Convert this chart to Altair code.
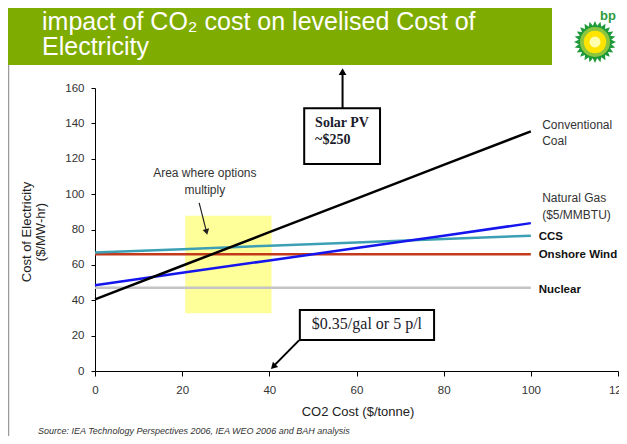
import math
import altair as alt
import pandas as pd

# ---------------- data ----------------
co2_cost = [0, 20, 40, 60, 80, 100]
coal = [40.5, 59.5, 78.5, 97.5, 116.5, 135.5]
natural_gas = [48.5, 55.5, 62.5, 69.5, 76.5, 83.6]
ccs = [67.0, 68.9, 70.8, 72.7, 74.6, 76.5]
onshore_wind = [66, 66, 66, 66, 66, 66]
nuclear = [47, 47, 47, 47, 47, 47]

series_names = ["Nuclear", "Onshore Wind", "CCS", "Natural Gas", "Conventional Coal"]
series_values = [nuclear, onshore_wind, ccs, natural_gas, coal]
series_colors = ["#c4c4c4", "#c4391a", "#3c9fb4", "#1515ee", "#000000"]

x_ticks = [0, 20, 40, 60, 80, 100, 120]
y_ticks = [0, 20, 40, 60, 80, 100, 120, 140, 160]

label_texts = ["Conventional", "Coal", "Natural Gas", "($5/MMBTU)", "CCS", "Onshore Wind", "Nuclear"]
label_values = [139.0, 130.0, 97.8, 88.2, 75.7, 65.6, 45.8]
label_bold = [False, False, False, False, True, True, True]

title_lines = ["impact of CO\u2082 cost on levelised Cost of", "Electricity"]
source_text = "Source:  IEA Technology Perspectives 2006, IEA WEO 2006 and  BAH analysis"

# ---------------- chart ----------------
W, H = 523, 283
one = pd.DataFrame({"k": [0]})
xs = alt.Scale(domain=[0, 120], nice=False, zero=False)
ys = alt.Scale(domain=[0, 160], nice=False, zero=False)
FONT = "Liberation Sans"
SERIF = "Liberation Serif"

XAX = alt.Axis(values=x_ticks, title=None, grid=False, domainColor="black", tickColor="black",
               tickSize=5, labelPadding=8, labelFontSize=11.5, labelColor="#333",
               labelFont=FONT, labelFlush=False, labelOverlap=False)
YAX = alt.Axis(values=y_ticks, title=None, grid=False, domainColor="black", tickColor="black",
               tickSize=4, labelPadding=7, labelFontSize=11.5, labelColor="#333",
               labelFont=FONT, labelOverlap=False)


def dx(v):
    return alt.datum(v, scale=xs, axis=XAX)


def dy(v):
    return alt.datum(v, scale=ys, axis=YAX)


layers = []

# left grey page border
layers.append(alt.Chart(one).mark_rule(color="#9a9a9a", strokeWidth=1.5).encode(
    x=alt.value(-86.5), y=alt.value(-23), y2=alt.value(360)))

# green title banner
layers.append(alt.Chart(one).mark_rect(color="#7fac00").encode(
    x=alt.value(-87), x2=alt.value(457), y=alt.value(-82), y2=alt.value(-23)))
for i, t in enumerate(title_lines):
    layers.append(alt.Chart(one).mark_text(
        text=t, font=FONT, fontSize=25, color="white", align="left", baseline="alphabetic"
    ).encode(x=alt.value(-53), y=alt.value(-58 + 25 * i)))

# bp logo (decoration)
pts = []
for j in range(48):
    r = 1.0 if j % 2 == 0 else 0.78
    a = math.pi * j / 24
    pts.append(f"{r * math.sin(a):.3f},{-r * math.cos(a):.3f}")
star_path = "M" + "L".join(pts) + "Z"
for shp, col, sz in [(star_path, "#1f9a3a", 1764), ("circle", "#8cc63f", 900),
                     ("circle", "#ffe400", 500), ("circle", "#ffffb0", 120)]:
    layers.append(alt.Chart(one).mark_point(shape=shp, filled=True, color=col, opacity=1, size=sz).encode(
        x=alt.value(500), y=alt.value(-46)))
layers.append(alt.Chart(one).mark_text(text="bp", font=FONT, fontSize=13, fontWeight="bold", color="#2e9b3c").encode(
    x=alt.value(513), y=alt.value(-72)))

# yellow "area where options multiply" box
layers.append(alt.Chart(one).mark_rect(color="#ffff99").encode(
    x=dx(20.7), x2=alt.datum(40.5), y=dy(32.6), y2=alt.datum(87.8)))

# series lines
for name, vals, col in zip(series_names, series_values, series_colors):
    df = pd.DataFrame({"co2": co2_cost, "cost": vals, "series": name})
    layers.append(alt.Chart(df).mark_line(color=col, strokeWidth=2.5).encode(
        x=alt.X("co2:Q", scale=xs, axis=XAX),
        y=alt.Y("cost:Q", scale=ys, axis=YAX),
    ))

# right-hand series labels
lab = pd.DataFrame({"text": label_texts, "y": label_values, "bold": label_bold})
layers.append(alt.Chart(lab[~lab["bold"]]).mark_text(
    font=FONT, fontSize=12, color="#333", align="left", baseline="middle"
).encode(x=dx(102.6), y=alt.Y("y:Q", scale=ys, axis=YAX), text="text:N"))
layers.append(alt.Chart(lab[lab["bold"]]).mark_text(
    font=FONT, fontSize=11.5, fontWeight="bold", color="#111", align="left", baseline="middle"
).encode(x=dx(101.8), y=alt.Y("y:Q", scale=ys, axis=YAX), text="text:N"))

# "Area where options multiply" annotation
layers.append(alt.Chart(one).mark_text(text="Area where options", font=FONT, fontSize=12, color="#333").encode(
    x=dx(25.2), y=dy(112.0)))
layers.append(alt.Chart(one).mark_text(text="multiply", font=FONT, fontSize=12, color="#333").encode(
    x=dx(25.2), y=dy(102.4)))
layers.append(alt.Chart(one).mark_rule(color="#222", strokeWidth=1.2).encode(
    x=dx(23.9), x2=alt.datum(25.5), y=dy(95.0), y2=alt.datum(79.5)))
layers.append(alt.Chart(one).mark_point(shape="triangle-up", filled=True, color="#222", opacity=1, size=45, angle=166).encode(
    x=dx(25.6), y=dy(78.6)))

# Solar PV box and arrow
layers.append(alt.Chart(one).mark_rule(color="black", strokeWidth=2).encode(
    x=dx(56.8), y=dy(148.5), y2=alt.datum(168.0)))
layers.append(alt.Chart(one).mark_point(shape="triangle-up", filled=True, color="black", opacity=1, size=60).encode(
    x=dx(56.8), y=dy(169.2)))
layers.append(alt.Chart(one).mark_rect(fill="white", stroke="black", strokeWidth=2).encode(
    x=dx(48.0), x2=alt.datum(65.4), y=dy(117.0), y2=alt.datum(148.5)))
for t, yv in [("Solar PV", 140.2), ("~$250", 130.6)]:
    layers.append(alt.Chart(one).mark_text(text=t, font=SERIF, fontSize=14, fontWeight="bold", color="#1a1a2a",
                                           align="left", baseline="middle").encode(
        x=dx(50.5), y=dy(yv)))

# $0.35/gal box and arrow
layers.append(alt.Chart(one).mark_rect(fill="white", stroke="black", strokeWidth=2).encode(
    x=dx(47.0), x2=alt.datum(77.8), y=dy(17.5), y2=alt.datum(34.5)))
layers.append(alt.Chart(one).mark_text(text="$0.35/gal or 5 p/l", font=SERIF, fontSize=16, color="#1a1a2a",
                                       baseline="middle").encode(
    x=dx(62.4), y=dy(26.3)))
layers.append(alt.Chart(one).mark_rule(color="black", strokeWidth=2).encode(
    x=dx(46.8), x2=alt.datum(41.2), y=dy(17.3), y2=alt.datum(3.3)))
layers.append(alt.Chart(one).mark_point(shape="triangle-up", filled=True, color="black", opacity=1, size=55, angle=225).encode(
    x=dx(40.9), y=dy(2.4)))

# axis titles
layers.append(alt.Chart(one).mark_text(text="CO2 Cost ($/tonne)", font=FONT, fontSize=13, color="#222").encode(
    x=alt.value(263), y=alt.value(324)))
layers.append(alt.Chart(one).mark_text(text="Cost of Electricity", font=FONT, fontSize=13, color="#222", angle=270).encode(
    x=alt.value(-68), y=alt.value(144)))
layers.append(alt.Chart(one).mark_text(text="($/MW-hr)", font=FONT, fontSize=13, color="#222", angle=270).encode(
    x=alt.value(-54), y=alt.value(144)))

# source
layers.append(alt.Chart(one).mark_text(text=source_text, font=FONT, fontSize=9, fontStyle="italic", color="#333",
                                       align="left", baseline="alphabetic").encode(
    x=alt.value(-57), y=alt.value(345.5)))

chart = alt.layer(*layers).properties(
    width=W, height=H,
    autosize=alt.AutoSizeParams(type="none"),
    padding={"left": 87, "top": 80, "right": 1, "bottom": 65},
    background="white",
).configure_view(stroke=None)

chart.save("out.html", embed_options={"renderer": "svg", "actions": False})
